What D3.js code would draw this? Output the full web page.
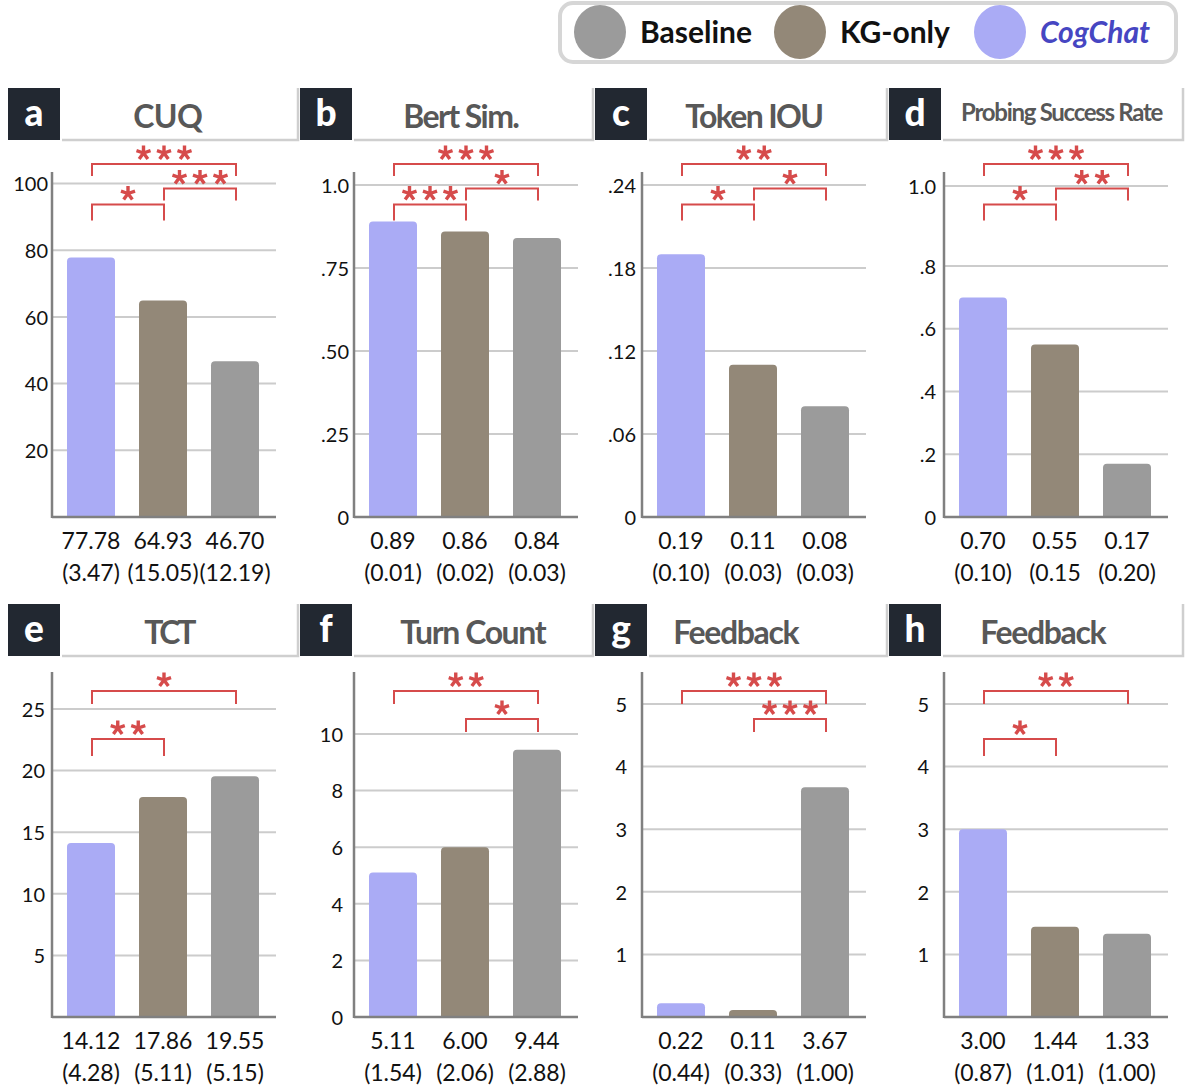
<!DOCTYPE html>
<html><head><meta charset="utf-8">
<script src="https://cdn.jsdelivr.net/npm/d3@7"></script>
<style>body{margin:0;background:#fff}</style>
</head><body>
<svg id="chart" width="1188" height="1088"></svg>
<script>
// ---------------- DATA ----------------
const methods = ["CogChat", "KG-only", "Baseline"];
const legendOrder = ["Baseline", "KG-only", "CogChat"];
const panelLetters = ["a", "b", "c", "d", "e", "f", "g", "h"];
const panelTitles = ["CUQ", "Bert Sim.", "Token IOU", "Probing Success Rate", "TCT", "Turn Count", "Feedback", "Feedback"];

const cuqMean = [77.78, 64.93, 46.70];
const cuqSd = ["(3.47)", "(15.05)", "(12.19)"];
const bertMean = [0.89, 0.86, 0.84];
const bertSd = ["(0.01)", "(0.02)", "(0.03)"];
const iouMean = [0.19, 0.11, 0.08];
const iouSd = ["(0.10)", "(0.03)", "(0.03)"];
const probeMean = [0.70, 0.55, 0.17];
const probeSd = ["(0.10)", "(0.15", "(0.20)"];
const tctMean = [14.12, 17.86, 19.55];
const tctSd = ["(4.28)", "(5.11)", "(5.15)"];
const turnMean = [5.11, 6.00, 9.44];
const turnSd = ["(1.54)", "(2.06)", "(2.88)"];
const fbGMean = [0.22, 0.11, 3.67];
const fbGSd = ["(0.44)", "(0.33)", "(1.00)"];
const fbHMean = [3.00, 1.44, 1.33];
const fbHSd = ["(0.87)", "(1.01)", "(1.00)"];

const cuqTicks = [20, 40, 60, 80, 100];
const cuqTickLabels = ["20", "40", "60", "80", "100"];
const bertTicks = [0, 0.25, 0.5, 0.75, 1.0];
const bertTickLabels = ["0", ".25", ".50", ".75", "1.0"];
const iouTicks = [0, 0.06, 0.12, 0.18, 0.24];
const iouTickLabels = ["0", ".06", ".12", ".18", ".24"];
const probeTicks = [0, 0.2, 0.4, 0.6, 0.8, 1.0];
const probeTickLabels = ["0", ".2", ".4", ".6", ".8", "1.0"];
const tctTicks = [5, 10, 15, 20, 25];
const tctTickLabels = ["5", "10", "15", "20", "25"];
const turnTicks = [0, 2, 4, 6, 8, 10];
const turnTickLabels = ["0", "2", "4", "6", "8", "10"];
const fbTicks = [1, 2, 3, 4, 5];
const fbTickLabels = ["1", "2", "3", "4", "5"];

// significance comparisons: [indexA, indexB, number of stars]
const cuqComps = [[0, 2, 3], [1, 2, 3], [0, 1, 1]];
const bertComps = [[0, 2, 3], [1, 2, 1], [0, 1, 3]];
const iouComps = [[0, 2, 2], [1, 2, 1], [0, 1, 1]];
const probeComps = [[0, 2, 3], [1, 2, 2], [0, 1, 1]];
const tctComps = [[0, 2, 1], [0, 1, 2]];
const turnComps = [[0, 2, 2], [1, 2, 1]];
const fbGComps = [[0, 2, 3], [1, 2, 3]];
const fbHComps = [[0, 2, 2], [0, 1, 1]];

const panelMeans = [cuqMean, bertMean, iouMean, probeMean, tctMean, turnMean, fbGMean, fbHMean];
const panelSds = [cuqSd, bertSd, iouSd, probeSd, tctSd, turnSd, fbGSd, fbHSd];
const panelTicks = [cuqTicks, bertTicks, iouTicks, probeTicks, tctTicks, turnTicks, fbTicks, fbTicks];
const panelTickLabels = [cuqTickLabels, bertTickLabels, iouTickLabels, probeTickLabels, tctTickLabels, turnTickLabels, fbTickLabels, fbTickLabels];
const panelComps = [cuqComps, bertComps, iouComps, probeComps, tctComps, turnComps, fbGComps, fbHComps];

// ---------------- LAYOUT / STYLE ----------------
const colors = {"CogChat": "#aaabf5", "KG-only": "#938878", "Baseline": "#9b9b9b"};
const FONT = "Lato, 'Noto Sans', sans-serif";
const RED = "#d64b4b";
const colBoxX = [8, 300, 595, 889];
const colAxisX = [52, 354, 642, 944];
const rowBoxY = [88, 604];
const rowBase = [517, 1017];
const rowAxisTop = [172, 672];
const rowLabel1 = [549, 1049];
const rowLabel2 = [581, 1081];
const PLOT_W = 224;
const yStops = [
  {d: [0, 100], r: [517, 183.5]},
  {d: [0, 1.0], r: [517, 185]},
  {d: [0, 0.24], r: [517, 185]},
  {d: [0, 0.8, 1.0], r: [517, 266, 186]},
  {d: [0, 25], r: [1017, 709]},
  {d: [0, 10], r: [1017, 734]},
  {d: [0, 5], r: [1017, 704]},
  {d: [0, 5], r: [1017, 704]}
];
const titleX = [167.5, 460, 753, 1061, 167, 472, 735, 1042];
const titleW = [69, 115, 137, 201, 49, 145, 125, 125];
const titleSize = [32, 32, 32, 24, 32, 32, 32, 32];
const tickGap = [4, 5, 6, 8, 7, 11, 15, 15];
const bracketLevels = [
  {"0-2": [164, 12], "1-2": [188.5, 12], "0-1": [204.5, 16]},
  {"0-2": [691, 13], "1-2": [719, 13], "0-1": [739, 17]}
];

const svg = d3.select("#chart");

// ---------------- LEGEND ----------------
const leg = svg.append("g");
leg.append("rect").attr("x", 560).attr("y", 3).attr("width", 616).attr("height", 59)
  .attr("rx", 13).attr("fill", "#fff").attr("stroke", "#d6d6d6").attr("stroke-width", 4);
const legX = d3.scalePoint().domain(legendOrder).range([600, 1000]);
legendOrder.forEach(m => {
  leg.append("ellipse").attr("cx", legX(m)).attr("cy", 32).attr("rx", 26).attr("ry", 27).attr("fill", colors[m]);
  leg.append("text").attr("x", legX(m) + 40).attr("y", 43)
    .attr("font-family", FONT).attr("font-weight", 700).attr("font-size", 30)
    .attr("font-style", m === "CogChat" ? "italic" : "normal")
    .attr("fill", m === "CogChat" ? "#4646c2" : "#111")
    .text(m);
});

// ---------------- PANELS ----------------
function topRounded(x, y, w, h, r) {
  r = Math.max(0, Math.min(r, h, w / 2));
  const p = d3.path();
  p.moveTo(x, y + h);
  p.lineTo(x, y + r);
  p.quadraticCurveTo(x, y, x + r, y);
  p.lineTo(x + w - r, y);
  p.quadraticCurveTo(x + w, y, x + w, y + r);
  p.lineTo(x + w, y + h);
  p.closePath();
  return p.toString();
}
function starPath(cx, cy, r) {
  const p = d3.path();
  for (let k = 0; k < 5; k++) {
    const a = -Math.PI / 2 + k * 2 * Math.PI / 5;
    p.moveTo(cx, cy);
    p.lineTo(cx + r * Math.cos(a), cy + r * Math.sin(a));
  }
  return p.toString();
}

panelLetters.forEach((letter, i) => {
  const col = i % 4, row = Math.floor(i / 4);
  const bx = colBoxX[col], by = rowBoxY[row];
  const ax = colAxisX[col], base = rowBase[row];
  const g = svg.append("g");

  // header
  const titleEnd = col < 3 ? colBoxX[col + 1] - 2 : 1183;
  g.append("rect").attr("x", bx + 52).attr("y", by).attr("width", titleEnd - bx - 52).attr("height", 51).attr("fill", "#fff");
  g.append("path").attr("d", `M${bx + 54},${by + 52}H${titleEnd}V${by}`)
    .attr("fill", "none").attr("stroke", "#cfcfcf").attr("stroke-width", 2.5);
  g.append("rect").attr("x", bx).attr("y", by).attr("width", 52).attr("height", 52).attr("fill", "#222831");
  g.append("text").attr("x", bx + 26).attr("y", by + 38).attr("text-anchor", "middle")
    .attr("font-family", FONT).attr("font-weight", 900).attr("font-size", 37).attr("fill", "#fff").text(letter);
  const tt = g.append("text").attr("x", titleX[i]).attr("y", by + 40 - (titleSize[i] < 30 ? 7 : 0)).attr("text-anchor", "middle")
    .attr("font-family", FONT).attr("font-weight", 700).attr("font-size", titleSize[i]).attr("fill", "#585858")
    .text(panelTitles[i]);
  const natural = tt.node().getComputedTextLength();
  const n = panelTitles[i].length;
  if (n > 1) {
    const ls = (titleW[i] - natural) / n;
    tt.attr("letter-spacing", ls.toFixed(2)).attr("x", titleX[i] - ls / 2);
  }

  // scales
  const y = d3.scaleLinear().domain(yStops[i].d).range(yStops[i].r);
  const x = d3.scaleBand().domain(methods).range([ax + 3, ax + 219]).paddingInner(1 / 3).paddingOuter(1 / 6);

  // gridlines
  g.append("g").selectAll("line").data(panelTicks[i].filter(t => t !== 0)).join("line")
    .attr("x1", ax).attr("x2", ax + PLOT_W).attr("y1", d => y(d)).attr("y2", d => y(d))
    .attr("stroke", "#cccccc").attr("stroke-width", 2);

  // bars
  g.append("g").selectAll("path").data(panelMeans[i]).join("path")
    .attr("d", (d, k) => topRounded(x(methods[k]), y(d), x.bandwidth(), base - y(d), 4))
    .attr("fill", (d, k) => colors[methods[k]]);

  // axis lines
  g.append("line").attr("x1", ax).attr("x2", ax).attr("y1", rowAxisTop[row]).attr("y2", base + 1)
    .attr("stroke", "#808080").attr("stroke-width", 2.5);
  g.append("line").attr("x1", ax).attr("x2", ax + PLOT_W).attr("y1", base).attr("y2", base)
    .attr("stroke", "#808080").attr("stroke-width", 2.5);

  // y tick labels
  const labs = panelTickLabels[i];
  const axis = d3.axisLeft(y).tickValues(panelTicks[i]).tickSize(0).tickPadding(tickGap[i])
    .tickFormat((d, k) => labs[k]);
  const ag = g.append("g").attr("transform", `translate(${ax},0)`).call(axis);
  ag.select(".domain").remove();
  ag.attr("font-family", FONT).attr("font-size", 20);
  ag.selectAll("text").attr("fill", "#111").attr("dy", "0.36em");

  // value labels
  g.append("g").selectAll("text").data(panelMeans[i]).join("text")
    .attr("x", (d, k) => x(methods[k]) + x.bandwidth() / 2).attr("y", rowLabel1[row])
    .attr("text-anchor", "middle").attr("font-family", FONT).attr("font-size", 23).attr("fill", "#111")
    .text(d => d3.format(".2f")(d));
  g.append("g").selectAll("text").data(panelSds[i]).join("text")
    .attr("x", (d, k) => x(methods[k]) + x.bandwidth() / 2).attr("y", rowLabel2[row])
    .attr("text-anchor", "middle").attr("font-family", FONT).attr("font-size", 23).attr("fill", "#111")
    .text(d => d);

  // significance brackets
  panelComps[i].forEach(([a, b, n]) => {
    const lv = bracketLevels[row][`${a}-${b}`];
    const x1 = x(methods[a]) + x.bandwidth() / 2 + 1, x2 = x(methods[b]) + x.bandwidth() / 2 + 1;
    const ly = lv[0], legLen = lv[1];
    g.append("path").attr("d", `M${x1},${ly + legLen}V${ly}H${x2}V${ly + legLen}`)
      .attr("fill", "none").attr("stroke", RED).attr("stroke-width", 2);
    const mid = (x1 + x2) / 2;
    for (let s = 0; s < n; s++) {
      const cx = mid + (s - (n - 1) / 2) * 20.5;
      g.append("path").attr("d", starPath(cx, ly - 11, 7.4))
        .attr("stroke", RED).attr("stroke-width", 3.4).attr("fill", "none");
    }
  });
});
</script>
</body></html>
